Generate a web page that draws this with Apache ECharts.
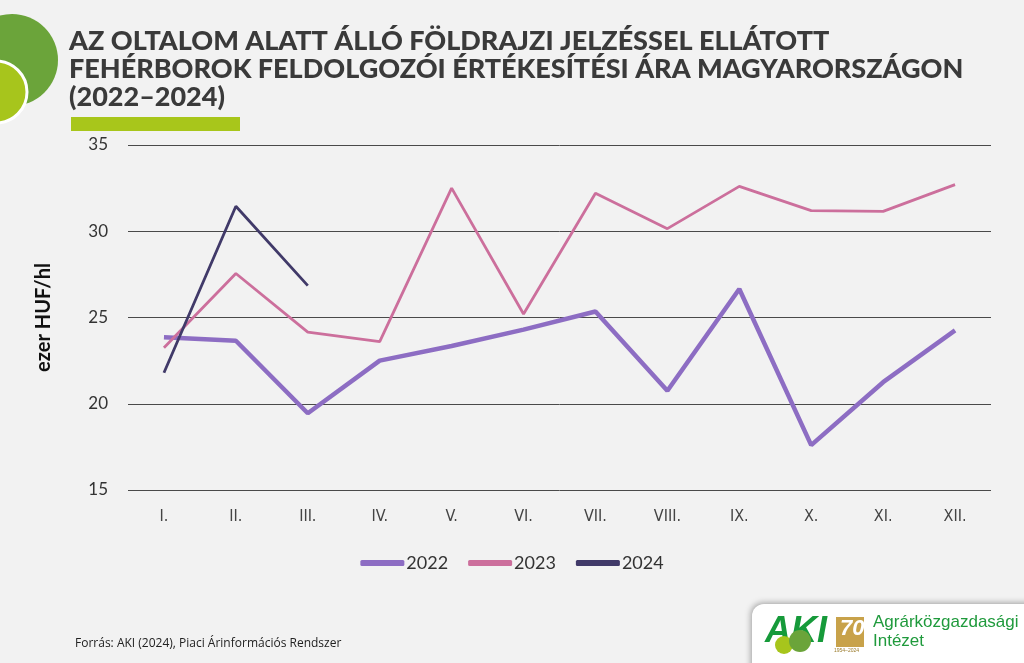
<!DOCTYPE html>
<html>
<head>
<meta charset="utf-8">
<script src="https://cdn.jsdelivr.net/npm/echarts@6/dist/echarts.min.js"></script>
<style>
html,body{margin:0;padding:0;background:#f2f2f2;}
#chart{width:1024px;height:663px;}
</style>
</head>
<body>
<div id="chart"></div>
<script>
const categories = ['I.','II.','III.','IV.','V.','VI.','VII.','VIII.','IX.','X.','XI.','XII.'];
const values2022 = [23.85,23.65,19.45,22.5,23.35,24.3,25.35,20.75,26.65,17.6,21.25,24.25];
const values2023 = [23.25,27.55,24.15,23.6,32.5,25.2,32.2,30.15,32.6,31.2,31.15,32.7];
const values2024 = [21.8,31.45,26.85];
const seriesNames = ['2022','2023','2024'];
const yTicks = [15,20,25,30,35];

const titleFont = 'Lato, Inter, sans-serif';
const chart = echarts.init(document.getElementById('chart'));
chart.setOption({
  backgroundColor:'#f2f2f2',
  animation:false,
  grid:{left:128,right:33,top:145,bottom:173,containLabel:false},
  legend:{
    data:seriesNames,
    left:'center', top:549,
    itemWidth:44, itemHeight:6, itemGap:20,
    icon:'roundRect',
    textStyle:{fontFamily:titleFont,fontSize:18,color:'#333',padding:[0,0,0,-3]}
  },
  xAxis:{
    type:'category', data:categories, boundaryGap:true,
    axisLine:{show:false}, axisTick:{show:false},
    axisLabel:{fontFamily:'"Liberation Sans Narrow", "DejaVu Sans Condensed", sans-serif',fontSize:16,color:'#444',margin:19}
  },
  yAxis:{
    type:'value', min:yTicks[0], max:yTicks[yTicks.length-1], interval:5,
    axisLine:{show:false}, axisTick:{show:false},
    axisLabel:{fontFamily:titleFont,fontSize:17,color:'#333',margin:20},
    splitLine:{lineStyle:{color:'#4a4a4a',width:1}},
    name:'ezer HUF/hl', nameLocation:'middle', nameGap:74, nameRotate:90,
    nameTextStyle:{fontFamily:titleFont,fontSize:20,fontWeight:'bold',color:'#111'}
  },
  series:[
    {name:seriesNames[0],type:'line',data:values2022,symbol:'none',color:'#8d6dc3',lineStyle:{width:4.5,color:'#8d6dc3'}},
    {name:seriesNames[1],type:'line',data:values2023,symbol:'none',color:'#cc6f9c',lineStyle:{width:2.8,color:'#cc6f9c'}},
    {name:seriesNames[2],type:'line',data:values2024,symbol:'none',color:'#413a69',lineStyle:{width:2.8,color:'#413a69'}}
  ],
  graphic:[
    {type:'circle',shape:{cx:12,cy:60,r:46},style:{fill:'#6ba43a'},z:1},
    {type:'circle',shape:{cx:-4,cy:92,r:31},style:{fill:'#a7c51c',stroke:'#ffffff',lineWidth:3},z:2},
    {type:'text',left:69,top:28,style:{text:'AZ OLTALOM ALATT ÁLLÓ FÖLDRAJZI JELZÉSSEL ELLÁTOTT',font:'900 27px '+titleFont,fill:'#3a3a3a'}},
    {type:'text',left:69,top:56,style:{text:'FEHÉRBOROK FELDOLGOZÓI ÉRTÉKESÍTÉSI ÁRA MAGYARORSZÁGON',font:'900 27px '+titleFont,fill:'#3a3a3a'}},
    {type:'text',left:69,top:84,style:{text:'(2022–2024)',font:'900 27px '+titleFont,fill:'#3a3a3a'}},
    {type:'rect',shape:{x:71,y:117,width:169,height:14},style:{fill:'#a8c61b'}},
    {type:'text',left:75,top:638,style:{text:'Forrás: AKI (2024), Piaci Árinformációs Rendszer',font:'12px "Open Sans", sans-serif',fill:'#222'}},
    {type:'rect',shape:{x:752,y:604,width:290,height:70,r:[12,0,0,0]},style:{fill:'#ffffff',shadowBlur:6,shadowColor:'rgba(0,0,0,0.35)',shadowOffsetX:-1,shadowOffsetY:-1},z:5},
    {type:'text',left:765,top:614,style:{text:'AKI',font:'italic 900 36px "Liberation Sans", sans-serif',fill:'#169a3a'},z:6},
    {type:'circle',shape:{cx:784,cy:645,r:9},style:{fill:'#a7c51c'},z:7},
    {type:'circle',shape:{cx:800,cy:641,r:11},style:{fill:'#6ba43a'},z:7},
    {type:'rect',shape:{x:836,y:617,width:28,height:30},style:{fill:'#c8a24a'},z:6},
    {type:'text',left:840,top:618,style:{text:'70',font:'italic bold 22px "Liberation Sans", sans-serif',fill:'#ffffff'},z:7},
    {type:'text',left:834,top:648,style:{text:'1954–2024',font:'5px "Liberation Sans", sans-serif',fill:'#9a7a2a'},z:7},
    {type:'text',left:873,top:614,style:{text:'Agrárközgazdasági',font:'17px "Liberation Sans", Arial, sans-serif',fill:'#1f9a3c'},z:6},
    {type:'text',left:873,top:633,style:{text:'Intézet',font:'17px "Liberation Sans", Arial, sans-serif',fill:'#1f9a3c'},z:6}
  ]
});
</script>
</body>
</html>
